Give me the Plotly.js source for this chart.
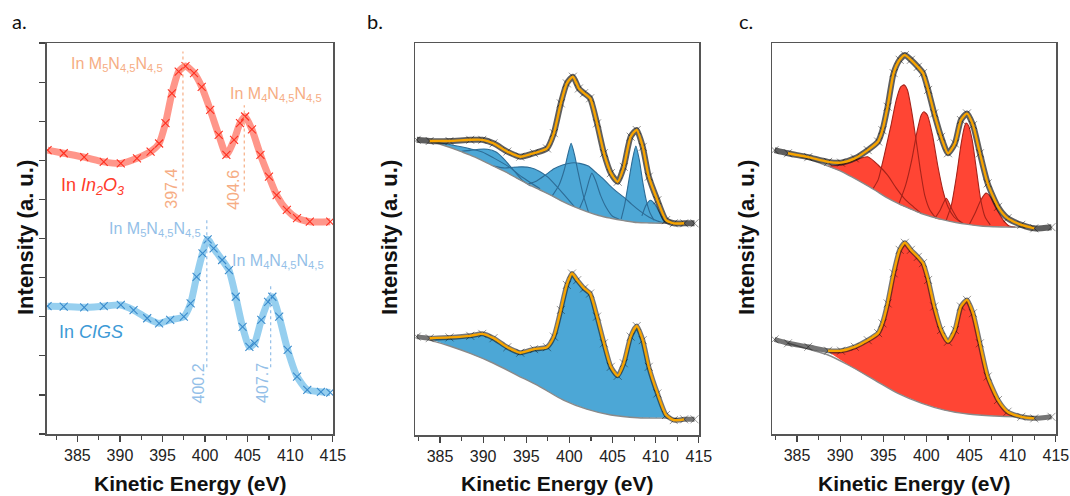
<!DOCTYPE html>
<html>
<head>
<meta charset="utf-8">
<script src="https://cdn.plot.ly/plotly-3.0.1.min.js"></script>
<style>html,body{margin:0;padding:0;background:#fff}#chart{width:1070px;height:496px}</style>
</head>
<body>
<div id="chart"></div>
<script>
// ---------------- Panel a : In MNN Auger spectra ----------------
const energyIn2O3 = [381.5,383.4,385.8,388.1,390.1,392.0,393.6,394.6,395.35,396.1,396.9,397.7,398.7,399.6,400.6,401.6,402.5,403.4,404.1,404.7,405.5,406.5,407.5,408.4,409.6,410.8,412.3,414.7];
const intensityIn2O3 = [7.26,7.18,7.08,6.96,6.92,7.05,7.22,7.43,7.95,8.71,9.27,9.41,9.23,8.88,8.29,7.65,7.14,7.52,7.95,8.12,7.79,7.14,6.58,6.11,5.73,5.52,5.43,5.43];
const energyCIGS = [381.5,383.4,385.8,388.1,390.1,391.6,393.2,394.6,395.9,397.5,398.3,399.0,399.7,400.3,401.0,402.0,402.8,403.6,404.4,405.2,405.8,406.6,407.4,407.9,408.7,409.7,410.8,412.0,413.6,414.7];
const intensityCIGS = [3.27,3.26,3.24,3.27,3.30,3.17,2.96,2.83,2.92,3.00,3.34,4.02,4.62,4.98,4.75,4.45,4.19,3.51,2.74,2.23,2.32,2.92,3.38,3.51,3.00,2.15,1.47,1.13,1.08,1.06];
const peaksIn2O3 = [397.4, 404.6];
const peaksCIGS = [400.2, 407.7];
const augerLabels = ['In M<sub>5</sub>N<sub>4,5</sub>N<sub>4,5</sub>', 'In M<sub>4</sub>N<sub>4,5</sub>N<sub>4,5</sub>'];
const sampleLabels = ['In <i>In<sub>2</sub>O<sub>3</sub></i>', 'In <i>CIGS</i>'];

// ---------------- Panel b : CIGS fits ----------------
const energyB1 = [382.3,383.8,386.1,388.5,389.9,391.2,392.8,394.3,395.9,397.4,398.2,399.0,399.7,400.4,401.1,401.7,402.4,403.2,404.0,404.8,405.6,406.3,407.1,407.8,408.5,409.2,410.2,411.2,412.1,413.3,414.5];
const intensityB1 = [7.53,7.50,7.50,7.53,7.53,7.44,7.23,7.10,7.19,7.31,7.70,8.46,8.97,9.14,8.84,8.72,8.59,7.95,7.19,6.68,6.46,6.84,7.61,7.78,7.35,6.59,5.99,5.48,5.40,5.40,5.40];
const bgEnergyB1 = [383.8,385.0,386.1,387.3,388.5,389.9,391.2,392.6,393.9,395.2,396.6,398.0,399.3,400.6,402.0,403.4,404.8,406.3,407.9,409.5,411.0,413.0];
const bgB1 = [7.50,7.42,7.34,7.24,7.14,7.00,6.86,6.71,6.55,6.40,6.25,6.10,5.95,5.82,5.70,5.60,5.53,5.47,5.42,5.41,5.40,5.40];
const compB_1E = [383.8,386.1,388.5,389.9,391.2,393.0,394.5,396.6];
const compB_1I = [7.50,7.41,7.30,7.22,7.07,6.84,6.58,6.28];
const compB_2E = [387.5,388.5,389.5,390.5,391.5,392.5,393.5,394.5,395.5];
const compB_2I = [7.24,7.26,7.29,7.29,7.22,7.02,6.76,6.51,6.35];
const compB_3E = [391.2,392.5,393.5,394.5,395.5,396.5,397.5,398.5,399.5,400.6];
const compB_3I = [6.86,6.81,6.83,6.84,6.82,6.73,6.58,6.35,6.10,5.82];
const compB_4E = [398.0,398.8,399.4,399.8,400.2,400.6,401.0,401.6,402.2];
const compB_4I = [6.10,6.38,6.76,7.14,7.44,7.14,6.71,6.12,5.69];
const compB_5E = [395.2,396.2,397.2,398.2,399.2,400.2,401.2,402.2,403.0,403.8,404.6,405.4,406.3,407.2,408.2,409.2,410.2,411.2];
const compB_5I = [6.40,6.48,6.63,6.79,6.89,6.94,6.93,6.86,6.71,6.56,6.38,6.22,6.07,5.89,5.71,5.56,5.46,5.40];
const compB_6E = [401.2,401.8,402.3,402.6,403.0,403.6,404.3,405.0,405.8];
const compB_6I = [5.79,6.12,6.51,6.68,6.51,6.12,5.79,5.58,5.50];
const compB_7E = [406.0,406.4,406.9,407.3,407.7,408.1,408.5,408.9,409.3,409.8];
const compB_7I = [5.51,5.87,6.51,7.02,7.37,7.02,6.45,5.99,5.69,5.48];
const compB_8E = [408.4,408.9,409.4,409.9,410.4,410.9,411.3];
const compB_8I = [5.59,5.87,5.99,5.89,5.69,5.48,5.40];
const energyB2 = [382.3,383.8,386.1,388.5,389.9,391.2,392.8,394.3,395.9,397.4,398.2,399.0,399.7,400.3,400.9,401.7,402.4,403.2,404.0,404.8,405.6,406.3,407.1,407.8,408.5,409.2,410.2,411.2,412.1,413.3,414.5];
const intensityB2 = [2.51,2.47,2.49,2.53,2.58,2.47,2.24,2.10,2.19,2.24,2.51,3.19,3.83,4.12,3.95,3.74,3.61,3.02,2.34,1.74,1.51,1.83,2.51,2.78,2.42,1.74,1.06,0.51,0.38,0.40,0.40];
const bgEnergyB2 = [383.8,386.1,388.5,391.2,393.9,396.6,399.3,402.0,404.8,407.9,411.0,412.5];
const bgB2 = [2.42,2.27,2.08,1.83,1.53,1.23,0.89,0.66,0.51,0.44,0.43,0.42];
const fitRangeB = [383.8, 413.3];

// ---------------- Panel c : In2O3 fits ----------------
const energyC1 = [382.4,383.95,386.3,388.6,390.1,391.7,393.2,394.4,394.9,395.5,396.2,396.9,397.5,398.2,399.0,399.6,400.2,400.9,401.7,402.5,403.3,404.0,404.7,405.4,406.2,407.1,408.3,409.4,411.0,412.5,414.5];
const intensityC1 = [7.26,7.18,7.08,6.96,6.94,7.05,7.26,7.48,7.77,8.37,9.23,9.57,9.69,9.57,9.39,9.23,8.80,8.20,7.60,7.18,7.43,8.03,8.20,7.90,7.18,6.41,5.81,5.52,5.35,5.26,5.29];
const bgEnergyC1 = [384.0,385.1,386.3,387.5,388.6,390.0,391.3,392.6,394.0,395.3,396.7,398.0,399.4,400.7,402.1,403.4,404.8,406.3,407.9,409.5,411.0,412.5];
const bgC1 = [7.18,7.11,7.03,6.94,6.85,6.73,6.58,6.42,6.24,6.06,5.90,5.77,5.64,5.55,5.47,5.41,5.36,5.32,5.30,5.29,5.29,5.29];
const compC_1E = [388.6,389.6,390.8,392.0,393.2,394.4,395.5,396.5,397.5,398.5,399.4];
const compC_1I = [6.85,6.87,6.93,7.03,7.09,6.88,6.62,6.29,6.01,5.81,5.64];
const compC_2E = [393.8,394.4,394.9,395.3,395.9,396.5,397.0,397.4,397.8,398.3,398.8,399.3,399.8,400.4,401.0];
const compC_2I = [6.27,6.50,6.93,7.31,7.90,8.54,8.87,8.93,8.80,8.24,7.52,6.75,6.11,5.73,5.55];
const compC_3E = [396.8,397.6,398.3,398.9,399.4,399.7,400.1,400.7,401.3,401.9,402.5,403.2,404.0];
const compC_3I = [5.88,6.37,7.01,7.72,8.16,8.24,8.16,7.65,6.88,6.24,5.81,5.55,5.42];
const compC_4E = [401.0,401.6,402.3,403.0,403.7,404.3];
const compC_4I = [5.52,5.73,6.03,5.73,5.47,5.38];
const compC_5E = [402.3,402.9,403.5,404.0,404.4,404.6,404.9,405.3,405.8,406.3,406.8,407.4];
const compC_5I = [5.47,5.86,6.62,7.39,7.85,7.95,7.88,7.52,6.75,5.98,5.55,5.35];
const compC_6E = [405.0,405.7,406.3,406.9,407.5,408.2,408.9,409.6,410.3];
const compC_6I = [5.37,5.68,5.98,6.16,6.04,5.73,5.47,5.32,5.29];
const energyC2 = [382.4,383.95,386.3,388.6,390.1,391.7,393.2,394.4,394.9,395.5,396.2,396.9,397.5,398.2,399.0,399.6,400.2,400.9,401.7,402.5,403.3,404.0,404.7,405.4,406.2,407.1,408.3,409.4,411.0,412.5,414.5];
const intensityC2 = [2.42,2.32,2.23,2.13,2.13,2.23,2.40,2.58,2.83,3.34,4.11,4.71,4.89,4.71,4.53,4.37,3.94,3.26,2.66,2.36,2.66,3.26,3.43,3.09,2.32,1.47,0.87,0.57,0.44,0.40,0.44];
const bgEnergyC2 = [384.0,386.3,388.6,391.3,394.0,396.7,399.4,402.1,404.8,407.9,411.0,412.5];
const bgC2 = [2.32,2.17,2.02,1.72,1.38,1.04,0.79,0.61,0.51,0.46,0.44,0.44];
const fitRangeC = [383.95, 412.5];

// ---------------- styles ----------------
const BLUE_FILL = '#4ca7d6', BLUE_EDGE = '#2d6c96';
const RED_FILL = '#ff4534', RED_EDGE = '#a6231a';
const ORANGE = '#f7a400', BG_LINE = '#8a8a8a';
const TXT = 'Liberation Sans, Arial, sans-serif';

function inRange(xs, ys, lo, hi) {
  const ox = [], oy = [];
  xs.forEach((x, i) => { if (x >= lo && x <= hi) { ox.push(x); oy.push(ys[i]); } });
  return [ox, oy];
}
function polygon(topX, topY, bgX, bgY) {
  const lo = topX[0], hi = topX[topX.length - 1];
  const px = topX.slice(), py = topY.slice();
  for (let i = bgX.length - 1; i >= 0; i--) {
    if (bgX[i] > lo && bgX[i] < hi) { px.push(bgX[i]); py.push(bgY[i]); }
  }
  px.push(topX[0]); py.push(topY[0]);
  return [px, py];
}
const traces = [];
function dataBand(x, y, xa, ya, bandColor, markColor, w, msize, mw) {
  traces.push({x, y, xaxis: xa, yaxis: ya, type: 'scatter', mode: 'lines+markers', hoverinfo: 'skip', showlegend: false,
    line: {color: bandColor, width: w, shape: 'spline', smoothing: 0.6},
    marker: {symbol: 'x-thin', size: msize, line: {width: mw, color: markColor}, color: markColor}});
}
function fitPanel(comps, bgX, bgY, dataX, dataY, fitRange, xa, ya, fill, edge) {
  comps.forEach(([cx, cy]) => {
    const [px, py] = polygon(cx, cy, bgX, bgY);
    traces.push({x: px, y: py, xaxis: xa, yaxis: ya, type: 'scatter', mode: 'lines', fill: 'toself', fillcolor: fill,
      line: {width: 0, shape: 'spline', smoothing: 0.5}, hoverinfo: 'skip', showlegend: false});
  });
  comps.forEach(([cx, cy]) => {
    traces.push({x: cx, y: cy, xaxis: xa, yaxis: ya, type: 'scatter', mode: 'lines',
      line: {width: 1.1, color: edge, shape: 'spline', smoothing: 0.6}, hoverinfo: 'skip', showlegend: false});
  });
  traces.push({x: bgX, y: bgY, xaxis: xa, yaxis: ya, type: 'scatter', mode: 'lines',
    line: {width: 1.4, color: BG_LINE, shape: 'spline'}, hoverinfo: 'skip', showlegend: false});
  dataBand(dataX, dataY, xa, ya, 'rgba(25,25,25,0.7)', 'rgba(0,0,0,0.55)', 6, 8, 0.8);
  const [fx, fy] = inRange(dataX, dataY, fitRange[0], fitRange[1]);
  traces.push({x: fx, y: fy, xaxis: xa, yaxis: ya, type: 'scatter', mode: 'lines',
    line: {width: 2.4, color: ORANGE, shape: 'spline', smoothing: 0.6}, hoverinfo: 'skip', showlegend: false});
}
function envelopePanel(bgX, bgY, dataX, dataY, fitRange, xa, ya, fill) {
  const [fx, fy] = inRange(dataX, dataY, fitRange[0], fitRange[1]);
  const [px, py] = polygon(fx, fy, bgX, bgY);
  traces.push({x: px, y: py, xaxis: xa, yaxis: ya, type: 'scatter', mode: 'lines', fill: 'toself', fillcolor: fill,
    line: {width: 0, shape: 'spline', smoothing: 0.5}, hoverinfo: 'skip', showlegend: false});
  traces.push({x: bgX, y: bgY, xaxis: xa, yaxis: ya, type: 'scatter', mode: 'lines',
    line: {width: 1.4, color: BG_LINE, shape: 'spline'}, hoverinfo: 'skip', showlegend: false});
  dataBand(dataX, dataY, xa, ya, 'rgba(25,25,25,0.6)', 'rgba(0,0,0,0.5)', 5, 8, 0.8);
  traces.push({x: fx, y: fy, xaxis: xa, yaxis: ya, type: 'scatter', mode: 'lines',
    line: {width: 2.4, color: ORANGE, shape: 'spline', smoothing: 0.6}, hoverinfo: 'skip', showlegend: false});
}

// panel a
dataBand(energyIn2O3, intensityIn2O3, 'x', 'y', 'rgba(255,80,60,0.6)', '#ff3020', 7, 8, 1.1);
dataBand(energyCIGS, intensityCIGS, 'x', 'y', 'rgba(80,175,228,0.6)', '#3a8bcc', 7, 8, 1.1);
// panel b
fitPanel([[compB_1E,compB_1I],[compB_2E,compB_2I],[compB_3E,compB_3I],[compB_5E,compB_5I],[compB_4E,compB_4I],[compB_6E,compB_6I],[compB_7E,compB_7I],[compB_8E,compB_8I]],
  bgEnergyB1, bgB1, energyB1, intensityB1, fitRangeB, 'x2', 'y2', BLUE_FILL, BLUE_EDGE);
envelopePanel(bgEnergyB2, bgB2, energyB2, intensityB2, fitRangeB, 'x2', 'y2', BLUE_FILL);
// panel c
fitPanel([[compC_1E,compC_1I],[compC_2E,compC_2I],[compC_3E,compC_3I],[compC_4E,compC_4I],[compC_5E,compC_5I],[compC_6E,compC_6I]],
  bgEnergyC1, bgC1, energyC1, intensityC1, fitRangeC, 'x3', 'y3', RED_FILL, RED_EDGE);
envelopePanel(bgEnergyC2, bgC2, energyC2, intensityC2, [388.0, 412.5], 'x3', 'y3', RED_FILL);

// ---------------- layout ----------------
const W = 1070, H = 496;
const px2x = p => p / W, py2y = p => (H - p) / H;
function xAxis(l, r, lo, anchor) {
  return {domain: [px2x(l), px2x(r)], range: [lo, 415.02], anchor, tick0: 385, dtick: 5,
    ticks: 'outside', ticklen: 6, tickwidth: 1.2, tickcolor: '#444',
    minor: {dtick: 2.5, ticks: 'outside', ticklen: 4, tickwidth: 1.1, tickcolor: '#444', showgrid: false},
    showline: true, mirror: true, linecolor: '#555', linewidth: 1.5, showgrid: false, zeroline: false,
    tickfont: {family: TXT, size: 16, color: '#222'}, fixedrange: true};
}
function yAxis(top, bottom, anchor, ticks) {
  return {domain: [py2y(bottom), py2y(top)], range: [0, 10], anchor,
    ticks: ticks ? 'outside' : '', dtick: 1, ticklen: 6, tickwidth: 1.2, tickcolor: '#444', showticklabels: false,
    showline: true, mirror: true, linecolor: '#555', linewidth: 1.5, showgrid: false, zeroline: false, fixedrange: true};
}
const ORANGE_T = '#f6ad84', BLUE_T = '#94bfe8';
const ann = [];
function paperText(text, x, y, size, opts) {
  ann.push(Object.assign({text, x: px2x(x), y: py2y(y), xref: 'paper', yref: 'paper', showarrow: false,
    xanchor: 'center', yanchor: 'middle', font: {family: TXT, size, color: '#111'}}, opts || {}));
}
['a', 'b', 'c'].forEach((p, i) => {
  paperText(p + '.', [19, 375, 746][i], 21, 20, {font: {family: 'Lato, Open Sans, sans-serif', size: 20, color: '#111'}});
  paperText('<b>Intensity (a. u.)</b>', [25, 389, 746][i], 238, 22, {textangle: -90});
  paperText('<b>Kinetic Energy (eV)</b>', [190, 557, 914][i], 483, 21);
});
function dataText(text, x, y, size, color, angle) {
  ann.push({text, x, y, xref: 'x', yref: 'y', showarrow: false, xanchor: 'center', yanchor: 'middle',
    textangle: angle || 0, font: {family: TXT, size, color}});
}
dataText(augerLabels[0], 389.7, 9.44, 16, ORANGE_T);
dataText(augerLabels[1], 408.3, 8.67, 16, ORANGE_T);
dataText(String(peaksIn2O3[0]), peaksIn2O3[0] - 1.3, 6.27, 16, ORANGE_T, -90);
dataText(String(peaksIn2O3[1]), peaksIn2O3[1] - 1.35, 6.24, 16, ORANGE_T, -90);
dataText(sampleLabels[0], 386.75, 6.32, 18, '#ff3b2a');
dataText(augerLabels[0], 394.1, 5.22, 16, BLUE_T);
dataText(augerLabels[1], 408.6, 4.41, 16, BLUE_T);
dataText(String(peaksCIGS[0]), peaksCIGS[0] - 1.0, 1.30, 16, BLUE_T, -90);
dataText(String(peaksCIGS[1]), peaksCIGS[1] - 1.05, 1.30, 16, BLUE_T, -90);
dataText(sampleLabels[1], 386.65, 2.62, 18, '#3d9ad6');

const shapes = [];
function vline(x, y0, y1, color) {
  shapes.push({type: 'line', xref: 'x', yref: 'y', x0: x, x1: x, y0, y1, line: {color, width: 1.2, dash: 'dot'}});
}
vline(peaksIn2O3[0], 6.2, 9.78, ORANGE_T);
vline(peaksIn2O3[1], 6.2, 8.41, ORANGE_T);
vline(peaksCIGS[0], 1.71, 5.52, BLUE_T);
vline(peaksCIGS[1], 1.71, 3.81, BLUE_T);

const layout = {
  width: W, height: H, margin: {l: 0, r: 0, t: 0, b: 0}, paper_bgcolor: '#fff', plot_bgcolor: '#fff',
  showlegend: false, font: {family: TXT},
  xaxis: xAxis(46.7, 333, 381.4, 'y'), yaxis: yAxis(43, 434, 'x', true),
  xaxis2: xAxis(415, 699, 382.1, 'y2'), yaxis2: yAxis(43, 435, 'x2', false),
  xaxis3: xAxis(772, 1056, 382.1, 'y3'), yaxis3: yAxis(43, 434, 'x3', false),
  annotations: ann, shapes
};
Plotly.newPlot('chart', traces, layout, {staticPlot: true, displayModeBar: false});
</script>
</body>
</html>
